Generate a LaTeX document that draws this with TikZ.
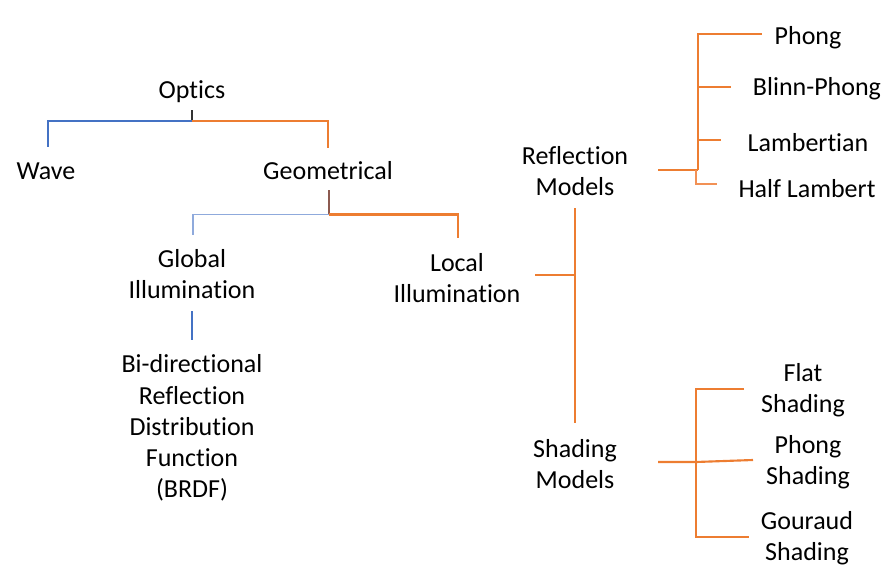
\documentclass[tikz,border=0pt]{standalone}
\usepackage{fontspec}
\setmainfont[Ligatures=NoCommon]{Carlito}
\definecolor{treeorange}{HTML}{ED7D31}
\definecolor{lightorange}{HTML}{F29155}
\definecolor{treeblue}{HTML}{4472C4}
\definecolor{lightblue}{HTML}{8FAADC}
\definecolor{stubbrown}{HTML}{8C5A50}

\begin{document}
\begin{tikzpicture}[x=0.75pt, y=-0.75pt,
		label/.style={font=\fontsize{19.5}{23.4}\selectfont, align=center, inner sep=0pt},
		orangeline/.style={draw=treeorange, line width=1.6pt},
		blueline/.style={draw=treeblue, line width=1.1pt}]
	\useasboundingbox (0,0) rectangle (896,575);

	% Texte
	\node[label] (optics) at (192,92) {Optics};
	\node[label] (wave) at (46,171) {Wave};
	\node[label] (geom) at (328,171) {Geometrical};
	\node[label] (global) at (192,274) {Global\\Illumination};
	\node[label] (local) at (457,278) {Local\\Illumination};
	\node[label] (brdf) at (192,428) {Bi-directional\\Reflection\\Distribution\\Function\\(BRDF)};
	\node[label] (refl) at (575,171) {Reflection\\Models};
	\node[label] (shad) at (575,464) {Shading\\Models};

	\node[label] (phong) at (808,38) {Phong};
	\node[label] (blinn) at (817,89) {Blinn-Phong};
	\node[label] (lamb) at (808,143) {Lambertian};
	\node[label] (half) at (807,189) {Half Lambert};

	\node[label] (flat) at (803,390) {Flat\\Shading};
	\node[label] (phongsh) at (808,462) {Phong\\Shading};
	\node[label] (gour) at (807,538) {Gouraud\\Shading};

	% Optics
	\coordinate (optics-top) at (192,110);
	\coordinate (optics-j) at (192,121);
	\coordinate (wave-end) at (48,147);
	\coordinate (geom-end) at (328,148);
	\draw[black!80, line width=0.9pt] (optics-top) -- (optics-j);
	\draw[blueline] (optics-j) -| (wave-end);
	\draw[orangeline] (optics-j) -| (geom-end);

	% Geometrical
	\coordinate (geom-top) at (329,190);
	\coordinate (geom-j) at (329,214.5);
	\coordinate (global-end) at (193,235);
	\coordinate (local-end) at (458,238);
	\draw[stubbrown, line width=1.1pt] (geom-top) -- (geom-j);
	\draw[blueline, draw=lightblue] (geom-j) -| (global-end);
	\draw[orangeline] (geom-j) -| (local-end);

	% Global -> BRDF
	\coordinate (global-bot) at (192,311);
	\coordinate (brdf-top) at (192,340);
	\draw[blueline] (global-bot) -- (brdf-top);

	% Local -> Modelle
	\coordinate (local-right) at (535,275);
	\coordinate (models-j) at (575,275);
	\coordinate (refl-bot) at (575,208);
	\coordinate (shad-top) at (575,423);
	\draw[orangeline] (local-right) -- (models-j);
	\draw[orangeline] (refl-bot) -- (shad-top);

	% Reflection Models
	\coordinate (refl-right) at (658,170);
	\coordinate (refl-j) at (698,170);
	\coordinate (phong-end) at (762,34);
	\coordinate (blinn-end) at (731,87);
	\coordinate (lamb-end) at (721,140);
	\coordinate (half-end) at (717,184);
	\draw[orangeline] (refl-right) -- (refl-j);
	\draw[orangeline] (refl-j) |- (phong-end);
	\draw[orangeline] (refl-j |- blinn-end) -- (blinn-end);
	\draw[orangeline] (refl-j |- lamb-end) -- (lamb-end);
	\draw[orangeline, draw=lightorange, line width=1.3pt] (696,170) |- (half-end);

	% Shading Models
	\coordinate (shad-right) at (658,462);
	\coordinate (shad-j) at (696,462);
	\coordinate (flat-end) at (744,389);
	\coordinate (phongsh-end) at (753,460);
	\coordinate (gour-end) at (749,537);
	\draw[orangeline] (shad-right) -- (shad-j) -- (phongsh-end);
	\draw[orangeline] (flat-end) -| (shad-j) |- (gour-end);
\end{tikzpicture}
\end{document}
